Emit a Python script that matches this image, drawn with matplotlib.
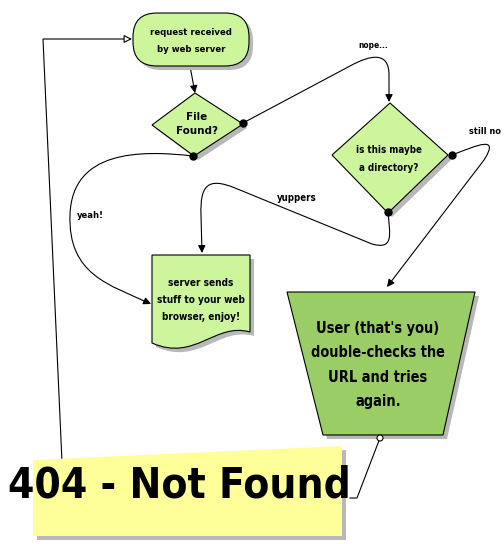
import matplotlib
matplotlib.use("Agg")
import matplotlib.pyplot as plt
from matplotlib.patches import FancyBboxPatch, Polygon, PathPatch, FancyArrowPatch, Circle
from matplotlib.path import Path
from matplotlib.transforms import Affine2D
from matplotlib import font_manager

# texts of the flowchart
start_text = "request received\nby web server"
found_text = "File\nFound?"
dir_text = "is this maybe\na directory?"
serve_text = "server sends\nstuff to your web\nbrowser, enjoy!"
user_text = "User (that's you)\ndouble-checks the\nURL and tries\nagain."
title_text = "404 - Not Found"
edge_labels = ["nope...", "still no", "yuppers", "yeah!"]

light_green = "#ccf59c"
dark_green = "#9acd66"
note_yellow = "#ffff99"
shadow = "#b8b8b8"

# look for a narrow bold face, the original uses a tall condensed hand font
stretch = "normal"
font = ["Liberation Sans", "DejaVu Sans"]
for f in font_manager.fontManager.ttflist:
    if f.stretch in ("condensed", "semi-condensed") and f.name in (
            "DejaVu Sans", "Noto Sans", "Open Sans", "Roboto", "Liberation Sans Narrow"):
        font = [f.name, "DejaVu Sans"]
        stretch = f.stretch
        break
plt.rcParams["font.family"] = font

fig = plt.figure(figsize=(5.04, 5.44), dpi=100)
ax = fig.add_axes([0, 0, 1, 1])
ax.set_xlim(0, 504)
ax.set_ylim(544, 0)
ax.set_aspect("equal")
ax.axis("off")

to_fit = []

def label(x, y, s, width, size=9, ls=1.45, z=3, weight="bold"):
    t = ax.text(x, y, s, ha="center", va="center", fontsize=size, fontweight=weight,
                fontstretch=stretch, linespacing=ls, zorder=z)
    to_fit.append((t, width, size))
    return t

def shape(verts, color, z=2, edge=True):
    ax.add_patch(Polygon([(x + 4, y + 4) for x, y in verts], closed=True, fc=shadow,
                         ec="none", zorder=z - 0.5))
    ax.add_patch(Polygon(verts, closed=True, fc=color, ec="black" if edge else "none",
                         lw=0.8, zorder=z))

def arrow(verts, codes, head="-|>", fc="black", ms=11):
    ax.add_patch(FancyArrowPatch(path=Path(verts, codes), arrowstyle=head, mutation_scale=ms,
                                 lw=0.8, ec="black", fc=fc, zorder=1))

M, L, C = Path.MOVETO, Path.LINETO, Path.CURVE4

# start box (rounded)
ax.add_patch(FancyBboxPatch((137, 17), 116, 53, boxstyle="round,pad=0,rounding_size=24",
                            fc=shadow, ec="none", zorder=1.5))
ax.add_patch(FancyBboxPatch((133, 13), 116, 53, boxstyle="round,pad=0,rounding_size=24",
                            fc=light_green, ec="black", lw=0.8, zorder=2))
label(191, 41, start_text, 82, ls=2.2)

# diamonds
shape([(195, 93), (243, 124), (194, 156), (152, 125)], light_green)
label(197, 124, found_text, 42, ls=1.45)
shape([(390, 103), (448, 155), (388, 213), (332, 155)], light_green)
label(389, 159, dir_text, 66, ls=1.95)

# document shape
doc = Path([(152, 255), (250, 255), (250, 332), (215, 322), (195, 362), (152, 343), (152, 255)],
           [M, L, L, C, C, C, Path.CLOSEPOLY])
ax.add_patch(PathPatch(doc.transformed(Affine2D().translate(4, 4)), fc=shadow, ec="none",
                       zorder=1.5))
ax.add_patch(PathPatch(doc, fc=light_green, ec="black", lw=0.8, zorder=2))
label(201, 300, serve_text, 88, ls=1.9)

# trapezoid
shape([(287, 292), (475, 292), (443, 435), (323, 435)], dark_green)
label(378, 365, user_text, 135, size=12, ls=1.78)

# sticky note
shape([(33, 460), (342, 446), (342, 536), (33, 536)], note_yellow, z=4, edge=False)
label(179, 486, title_text, 342, size=40, z=5, weight="heavy")

# connectors
arrow([(190, 66), (195, 93)], [M, L])
arrow([(243, 123), (350, 66), (372, 54), (389, 52), (389, 75), (389, 102)],
      [M, L, C, C, C, L])
arrow([(452, 155), (478, 145), (500, 135), (484, 160), (387, 287)], [M, C, C, C, L])
arrow([(388, 212), (390, 235), (394, 250), (372, 244), (235, 188),
       (208, 177), (200, 185), (201, 215), (202, 253)], [M, C, C, C, L, C, C, C, L])
arrow([(193, 156), (140, 150), (72, 150), (70, 215),
       (68, 275), (110, 285), (151, 304)], [M, C, C, C, C, C, C])
arrow([(62, 462), (43, 39), (132, 39)], [M, L, L], fc="white", ms=12)
ax.plot([350, 357, 380], [498, 498, 438], color="black", lw=0.8, zorder=3)
ax.add_patch(Circle((380, 438), 3, fc="white", ec="black", lw=0.8, zorder=6))

for xy in [(243, 123), (452, 155), (388, 212), (193, 156)]:
    ax.plot(*xy, "o", color="black", ms=5, zorder=6)

# edge labels
label(373, 46, edge_labels[0], 30)
label(485, 132, edge_labels[1], 32)
label(297, 198, edge_labels[2], 40)
label(90, 215, edge_labels[3], 27)

# shrink every text to the width it has in the original
fig.canvas.draw()
for t, width, size in to_fit:
    w = t.get_window_extent().width
    t.set_fontsize(size * width / w)

fig.savefig("out.png", dpi=100)
